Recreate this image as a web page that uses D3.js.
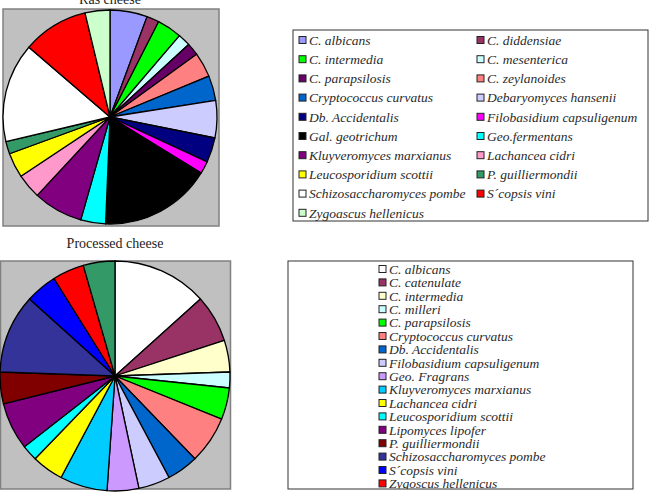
<!DOCTYPE html>
<html>
<head>
<meta charset="utf-8">
<script src="https://cdn.jsdelivr.net/npm/d3@7"></script>
<style>
  body { margin: 0; background: #fff; }
</style>
</head>
<body>
<svg id="chart" width="653" height="494"></svg>
<script>
// Ras cheese
var rasNames = ["C. albicans", "C. diddensiae", "C. intermedia", "C. mesenterica",
  "C. parapsilosis", "C. zeylanoides", "Cryptococcus curvatus", "Debaryomyces hansenii",
  "Db. Accidentalis", "Filobasidium capsuligenum", "Gal. geotrichum", "Geo.fermentans",
  "Kluyveromyces marxianus", "Lachancea cidri", "Leucosporidium scottii", "P. guilliermondii",
  "Schizosaccharomyces pombe", "S\u00b4copsis vini", "Zygoascus hellenicus"];
var rasValues = [3, 1, 2, 1, 1, 2, 2, 3, 2, 1, 9, 2, 4, 2, 2, 1, 8, 5.3, 2];
var rasColors = ["#9999ff", "#993366", "#00ff00", "#ccffff", "#660066", "#ff8080", "#0066cc",
  "#ccccff", "#000080", "#ff00ff", "#000000", "#00ffff", "#800080", "#ff99cc", "#ffff00",
  "#339966", "#ffffff", "#ff0000", "#ccffcc"];

// Processed cheese
var procNames = ["C. albicans", "C. catenulate", "C. intermedia", "C. milleri", "C. parapsilosis",
  "Cryptococcus curvatus", "Db. Accidentalis", "Filobasidium capsuligenum", "Geo. Fragrans",
  "Kluyveromyces marxianus", "Lachancea cidri", "Leucosporidium scottii", "Lipomyces lipofer",
  " P. guilliermondii", "Schizosaccharomyces pombe", "S\u00b4copsis vini", "Zygoscus hellenicus",
  "Other"];
var procValues = [6, 3, 2, 1, 2, 3, 2, 2, 2, 3, 2, 1, 3, 2, 5, 2, 2, 2];
var procColors = ["#ffffff", "#993366", "#ffffcc", "#ccffff", "#00ff00", "#ff8080", "#0066cc",
  "#ccccff", "#cc99ff", "#00ccff", "#ffff00", "#00ffff", "#800080", "#800000", "#333399",
  "#0000ff", "#ff0000", "#339966"];

var FONT = "'Liberation Serif', 'Times New Roman', Times, 'DejaVu Serif', serif";
var svg = d3.select("#chart");

function drawPie(opts) {
  var g = svg.append("g");

  g.append("rect")
    .attr("x", opts.box[0]).attr("y", opts.box[1])
    .attr("width", opts.box[2]).attr("height", opts.box[3])
    .attr("fill", "#c0c0c0").attr("stroke", "#808080").attr("stroke-width", 1.5);

  g.append("text")
    .attr("x", opts.cx).attr("y", opts.titleY)
    .attr("text-anchor", "middle")
    .attr("font-family", FONT).attr("font-size", 14).attr("fill", "#222")
    .text(opts.title);

  var pie = d3.pie().sort(null).value(function (d) { return d.v; });
  var arc = d3.arc().innerRadius(0).outerRadius(opts.r);
  var data = opts.values.map(function (v, i) { return { v: v, c: opts.colors[i] }; });

  g.append("g")
    .attr("transform", "translate(" + opts.cx + "," + opts.cy + ")")
    .selectAll("path")
    .data(pie(data)).enter().append("path")
      .attr("d", arc)
      .attr("fill", function (d) { return d.data.c; })
      .attr("stroke", "#000").attr("stroke-width", 1.3)
      .attr("stroke-linejoin", "round");
}

function drawLegend(opts) {
  var g = svg.append("g");
  var clipId = "clip" + opts.id;

  g.append("clipPath").attr("id", clipId)
    .append("rect")
      .attr("x", opts.box[0]).attr("y", opts.box[1])
      .attr("width", opts.box[2]).attr("height", opts.box[3]);

  g.append("rect")
    .attr("x", opts.box[0]).attr("y", opts.box[1])
    .attr("width", opts.box[2]).attr("height", opts.box[3])
    .attr("fill", "#fff").attr("stroke", "#333").attr("stroke-width", 1);

  var items = g.append("g").attr("clip-path", "url(#" + clipId + ")")
    .selectAll("g")
    .data(opts.names).enter().append("g")
      .attr("transform", function (d, i) {
        var col = i % opts.cols, row = Math.floor(i / opts.cols);
        return "translate(" + (opts.x0 + col * opts.colW) + "," + (opts.y0 + row * opts.rowH) + ")";
      });

  items.append("rect")
    .attr("x", 0).attr("y", -3.5).attr("width", 7).attr("height", 7)
    .attr("fill", function (d, i) { return opts.colors[i]; })
    .attr("stroke", "#222").attr("stroke-width", 1);

  items.append("text")
    .attr("x", 10).attr("dy", "0.35em")
    .attr("font-family", FONT).attr("font-style", "italic")
    .attr("font-size", 13.5).attr("fill", "#2a2a2a")
    .text(function (d) { return d; });
}

drawPie({ title: "Ras cheese", titleY: 4, box: [3, 9, 216, 217], cx: 110, cy: 117, r: 107,
  values: rasValues, colors: rasColors });
drawPie({ title: "Processed cheese", titleY: 248, box: [0.5, 261, 230, 228], cx: 115, cy: 376, r: 115,
  values: procValues, colors: procColors });

drawLegend({ id: 1, box: [293, 30, 355, 191], names: rasNames, colors: rasColors,
  cols: 2, colW: 178, x0: 299, y0: 40, rowH: 19.2 });
drawLegend({ id: 2, box: [288, 261, 345, 228], names: procNames, colors: procColors,
  cols: 1, colW: 0, x0: 379, y0: 269, rowH: 13.4 });
</script>
</body>
</html>
